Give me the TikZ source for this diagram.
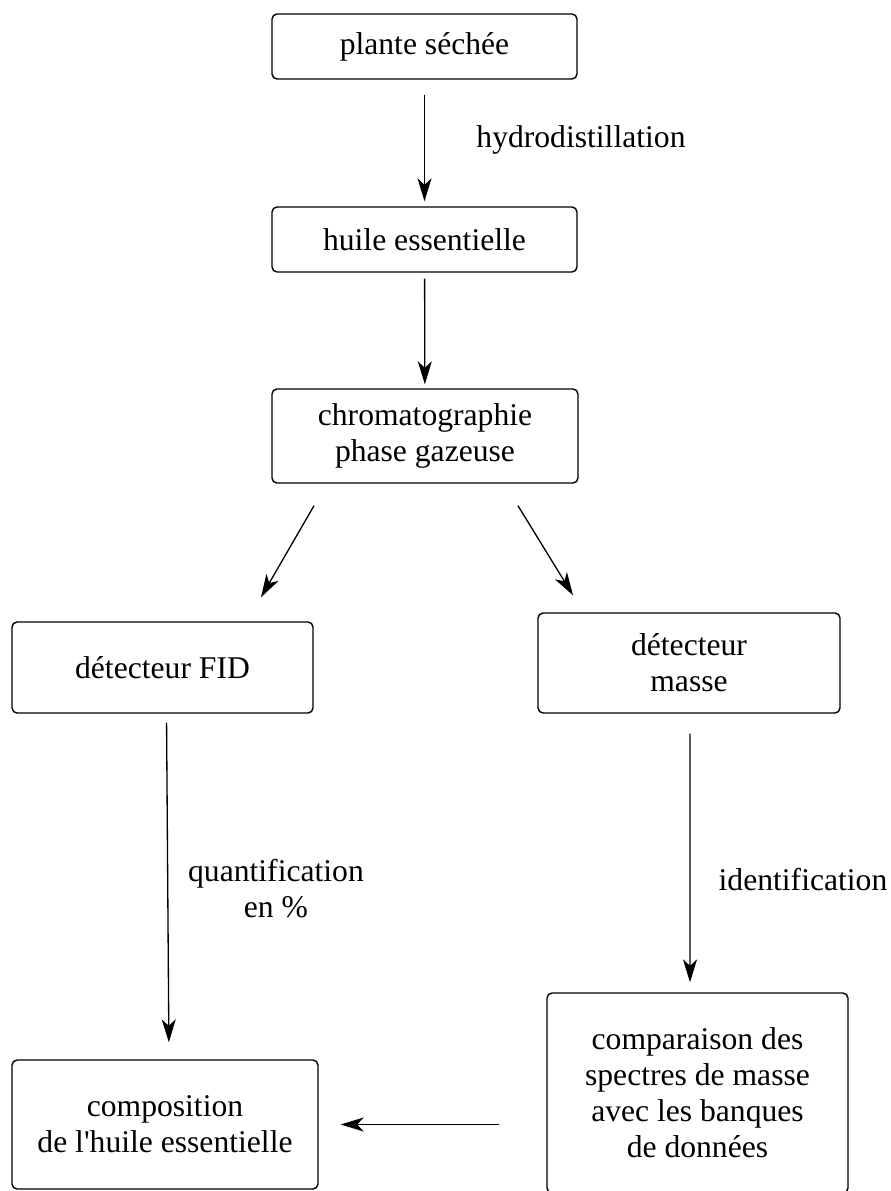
\documentclass[tikz,border=0pt]{standalone}
\usepackage{fontspec}
\setmainfont{Liberation Serif}
\usetikzlibrary{arrows.meta,calc}
\tikzset{
    boite/.style={draw,rounded corners=0.1cm,line width=0.8pt,inner sep=0pt,align=center},% 方框
    fleche/.style={-{Stealth[length=0.46cm,width=0.28cm,inset=0.13cm]},line width=0.75pt},
    etiquette/.style={align=center,inner sep=0pt}
}
\begin{document}
\begin{tikzpicture}[x=0.02cm,y=-0.02cm,font=\fontsize{18}{20.5}\selectfont]
        \useasboundingbox (0,0) rectangle (891,1191);%页面大小
        \node[boite,minimum width=6.1cm,minimum height=1.3cm] (plante) at (424.5,46.5) {plante séchée};
        \node[boite,minimum width=6.1cm,minimum height=1.3cm] (huile) at (424.5,239.5) {huile essentielle};
        \node[boite,minimum width=6.12cm,minimum height=1.88cm] (chromato) at (425,436) {chromatographie\\phase gazeuse};
        \node[boite,minimum width=6.02cm,minimum height=1.82cm] (fid) at (162.5,667.5) {détecteur FID};
        \node[boite,minimum width=6.04cm,minimum height=2cm] (masse) at (689,663) {détecteur\\masse};
        \node[boite,minimum width=6.12cm,minimum height=2.58cm] (compo) at (165,1124.5) {composition\\de l\textquotesingle huile essentielle};
        \node[boite,minimum width=6.02cm,minimum height=4cm] (compar) at (697.5,1093) {comparaison des\\spectres de masse\\avec les banques\\de données};
        %标注
        \node[etiquette] (hydro) at (581,140) {hydrodistillation};
        \node[etiquette] (quanti) at (276,889) {quantification\\en \%};
        \node[etiquette] (ident) at (803,880) {identification};
        %箭头
        \draw[fleche,shorten <=0.3cm,shorten >=0.1cm] (plante) -- (huile);
        \draw[fleche,shorten <=0.12cm,shorten >=0.08cm] (huile) -- (chromato);
        \draw[fleche] ([xshift=-2.22cm,yshift=-0.44cm]chromato.south) -- ([xshift=1.97cm,yshift=0.48cm]fid.north);
        \draw[fleche] ([xshift=1.86cm,yshift=-0.44cm]chromato.south) -- ([xshift=-2.32cm,yshift=0.34cm]masse.north);
        \draw[fleche,shorten <=0.18cm,shorten >=0.34cm] ([xshift=0.08cm]fid.south) -- ([xshift=0.08cm]compo.north);
        \draw[fleche,shorten <=0.4cm,shorten >=0.2cm] ([xshift=0.02cm]masse.south) -- ([xshift=-0.15cm]compar.north);
        \draw[fleche,shorten <=0.94cm,shorten >=0.44cm] (compar.west |- compo.east) -- (compo.east);
        \end{tikzpicture}
\end{document}
